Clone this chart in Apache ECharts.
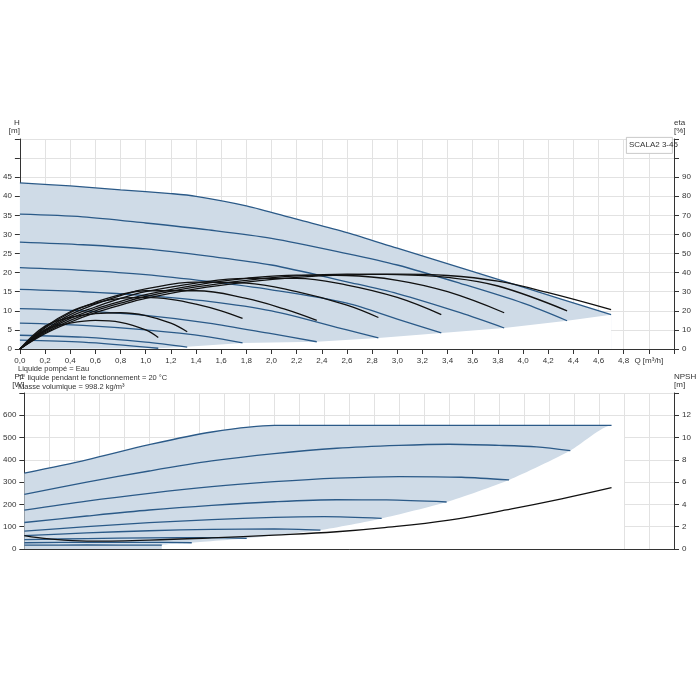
<!DOCTYPE html>
<html><head><meta charset="utf-8">
<script src="https://cdn.jsdelivr.net/npm/echarts@6/dist/echarts.min.js"></script>
<style>html,body{margin:0;padding:0;background:#fff}#c{width:700px;height:700px}</style>
</head><body><div id="c"></div>
<script>
// Head curves H [m] vs Q [m3/h]
var speeds = ['100 %', '90 %', '80 %', '70 %', '60 %', '50 %', '40 %', '30 %', '25 %'];
var h100 = [[0,43.5],[0.4,42.7],[0.8,41.7],[1.2,40.7],[1.4,40],[1.8,37.5],[2.2,34],[2.6,30.5],[3.0,26.4],[3.5,21.3],[4.0,16.2],[4.7,9]];
var h90 = [[0,35.3],[0.5,34.6],[1.0,33],[1.5,31.2],[2.0,29],[2.6,25],[3.0,22],[3.5,17.2],[4.0,12],[4.35,7.4]];
var h80 = [[0,28],[0.5,27.3],[1.0,26.2],[1.5,24.3],[2.0,22],[2.6,17.6],[3.0,14.5],[3.5,9.5],[3.85,5.5]];
var h70 = [[0,21.3],[0.5,20.6],[1.0,19.5],[1.5,17.7],[2.0,15.5],[2.6,12],[3.0,7.8],[3.35,4.2]];
var h60 = [[0,15.6],[0.5,15],[1.0,14],[1.5,12.5],[2.0,10],[2.6,5],[2.85,2.9]];
var h50 = [[0,10.6],[0.5,10],[1.0,8.8],[1.5,6.8],[2.0,4],[2.36,1.9]];
var h40 = [[0,6.8],[0.5,6.2],[1.0,5],[1.5,3.2],[1.77,1.6]];
var h30 = [[0,3.6],[0.5,3.1],[1.0,1.8],[1.33,0.5]];
var h25 = [[0,2.3],[0.5,1.8],[1.1,0.2]];
var hBottom = [[1.1,0.2],[1.33,0.6],[1.77,1.6],[2.36,1.9],[2.85,2.9],[3.35,4.2],[3.85,5.5],[4.35,7.4],[4.7,9]];

// Efficiency curves eta [%]
var e100 = [[0,0],[0.2,8],[0.4,14],[0.6,19],[0.8,23],[1.0,26.5],[1.4,31.5],[1.8,35],[2.2,37.5],[2.6,38.8],[3.0,39.2],[3.4,38.5],[3.8,35.5],[4.2,29.5],[4.7,20.6]];
var e90 = [[0,0],[0.2,8.5],[0.4,15],[0.6,20],[0.8,24],[1.0,27.5],[1.4,32.5],[1.8,36],[2.2,38.3],[2.6,39.2],[3.0,39],[3.4,37.5],[3.8,33],[4.35,20]];
var e80 = [[0,0],[0.2,9],[0.4,16],[0.6,21],[0.8,25],[1.0,28.5],[1.4,33.5],[1.8,37],[2.2,38.7],[2.6,38.5],[3.0,36],[3.4,30],[3.85,19]];
var e70 = [[0,0],[0.2,9.5],[0.4,17],[0.6,22],[0.8,26.5],[1.0,30],[1.4,34.5],[1.8,37],[2.2,37],[2.6,33.5],[3.0,27],[3.35,18]];
var e60 = [[0,0],[0.2,10],[0.4,18],[0.6,23.5],[0.8,28],[1.0,31.5],[1.4,35],[1.8,34.5],[2.2,30],[2.6,23],[2.85,16.5]];
var e50 = [[0,0],[0.2,11],[0.4,19],[0.6,24.5],[0.8,28.5],[1.0,30.5],[1.4,30.5],[1.8,26.5],[2.1,21],[2.36,15]];
var e40 = [[0,0],[0.2,11.5],[0.4,19.5],[0.6,24],[0.8,26.5],[1.0,27],[1.2,26],[1.4,23.5],[1.6,20],[1.77,16]];
var e30 = [[0,0],[0.2,12],[0.4,16.5],[0.6,18.5],[0.8,19],[1.0,17.5],[1.2,13.5],[1.33,9]];
var e25 = [[0,0],[0.2,10],[0.4,13.5],[0.6,15],[0.8,14],[1.0,10],[1.1,6]];

// Power P1 [W]
var p100 = [[0,340],[0.5,400],[1.0,468],[1.5,525],[2.0,555],[3.0,555],[4.7,555]];
var p90 = [[0,245],[0.5,300],[1.0,350],[1.5,395],[2.0,428],[2.5,452],[3.0,465],[3.4,470],[3.8,465],[4.1,458],[4.37,441]];
var p80 = [[0,174],[0.5,215],[1.0,250],[1.5,280],[2.0,302],[2.5,318],[3.0,325],[3.5,322],[3.88,310]];
var p70 = [[0,119],[0.5,148],[1.0,175],[1.5,196],[2.0,212],[2.5,221],[2.9,220],[3.38,211]];
var p60 = [[0,80],[0.5,100],[1.0,118],[1.5,132],[2.0,142],[2.4,145],[2.86,137]];
var p50 = [[0,60],[0.5,72],[1.0,82],[1.5,88],[2.0,90],[2.37,85]];
var p40 = [[0,42],[0.5,47],[1.0,50],[1.5,51],[1.78,48]];
var p30 = [[0,28],[0.5,30],[1.0,30],[1.34,28]];
var p25 = [[0,17],[0.5,18],[1.1,17]];
var pBottom = [[1.1,17],[1.34,28],[1.78,48],[2.37,85],[2.86,137],[3.38,211],[3.88,310],[4.37,441],[4.7,555]];

// NPSH [m]
var npsh = [[0,1.2],[0.2,0.9],[0.5,0.7],[1.0,0.8],[1.5,1.0],[2.0,1.25],[2.5,1.55],[2.86,1.9],[3.4,2.6],[3.9,3.6],[4.3,4.5],[4.7,5.5]];

var hCurves = [h100, h90, h80, h70, h60, h50, h40, h30, h25];
var eCurves = [e100, e90, e80, e70, e60, e50, e40, e30, e25];
var pCurves = [p100, p90, p80, p70, p60, p50, p40, p30, p25];

var BLUE = '#2b5a88', FILL = '#cfdbe7', GRID = '#e2e2e2';
var font = 'Liberation Sans, Arial, sans-serif';

function xAxis(gi, labels) {
  return {
    type: 'value', gridIndex: gi, min: 0, max: 5.2, interval: 0.2,
    axisLine: {show: true, onZero: false, lineStyle: {color: '#333'}},
    axisTick: {show: labels, lineStyle: {color: '#333'}},
    axisLabel: {show: labels, fontSize: 8, color: '#333', fontFamily: font,
      formatter: function (v) {
        if (Math.abs(v - 5.0) < 0.01) return 'Q [m³/h]';
        if (v > 5.0) return '';
        return v.toFixed(1).replace('.', ',');
      }},
    splitLine: {lineStyle: {color: GRID}}
  };
}
function yAxis(gi, pos, max, interval, lastLabel, name) {
  return {
    type: 'value', gridIndex: gi, position: pos, min: 0, max: max, interval: interval,
    name: name, nameLocation: 'end', nameGap: 4,
    nameTextStyle: {fontSize: 8, color: '#333', fontFamily: font, align: pos === 'left' ? 'right' : 'left', padding: pos === 'left' ? [0, 0, 0, 0] : [0, 0, 0, 0]},
    axisLine: {show: true, lineStyle: {color: '#333'}},
    axisTick: {show: true, lineStyle: {color: '#333'}},
    axisLabel: {fontSize: 8, color: '#333', fontFamily: font,
      formatter: function (v) { return v > lastLabel ? '' : String(v); }},
    splitLine: {show: pos === 'left', lineStyle: {color: GRID}}
  };
}

var series = [];
// head envelope fill
series.push({type: 'line', xAxisIndex: 0, yAxisIndex: 0, data: h100, symbol: 'none', smooth: 0.3,
  lineStyle: {width: 0}, areaStyle: {color: FILL, opacity: 1}, z: 1, silent: true});
series.push({type: 'line', xAxisIndex: 0, yAxisIndex: 0, data: [[0, 0]].concat(hBottom), symbol: 'none',
  lineStyle: {width: 0}, areaStyle: {color: '#fff', opacity: 1}, z: 1, silent: true});
hCurves.forEach(function (c, i) {
  var d = c.map(function (p, j) {
    return j === 0 ? {value: p, label: {show: true, formatter: speeds[i], position: 'top',
      offset: [i < 7 ? 28 - i * 2 : 8, i < 7 ? -1 : (i === 7 ? 2 : 6)], fontSize: 7, color: '#222', fontFamily: font}} : p;
  });
  series.push({type: 'line', xAxisIndex: 0, yAxisIndex: 0, data: d, symbol: 'none', smooth: 0.3,
    lineStyle: {color: BLUE, width: 1.3}, z: 3, silent: true});
});
eCurves.forEach(function (c) {
  series.push({type: 'line', xAxisIndex: 0, yAxisIndex: 1, data: c, symbol: 'none', smooth: 0.4,
    lineStyle: {color: '#111', width: 1.3}, z: 4, silent: true});
});
// power envelope fill
series.push({type: 'line', xAxisIndex: 1, yAxisIndex: 2, data: p100, symbol: 'none', smooth: 0.3,
  lineStyle: {width: 0}, areaStyle: {color: FILL, opacity: 1}, z: 1, silent: true});
series.push({type: 'line', xAxisIndex: 1, yAxisIndex: 2, data: [[0, 0], [1.1, 0]].concat(pBottom).concat([[4.8, 555], [4.8, 0]]), symbol: 'none',
  smooth: 0.2, lineStyle: {width: 0}, areaStyle: {color: '#fff', opacity: 1}, z: 1, silent: true});
pCurves.forEach(function (c) {
  series.push({type: 'line', xAxisIndex: 1, yAxisIndex: 2, data: c, symbol: 'none', smooth: 0.3,
    lineStyle: {color: BLUE, width: 1.3}, z: 3, silent: true});
});
series.push({type: 'line', xAxisIndex: 1, yAxisIndex: 3, data: npsh, symbol: 'none', smooth: 0.4,
  lineStyle: {color: '#111', width: 1.3}, z: 4, silent: true});

var chart = echarts.init(document.getElementById('c'));
chart.setOption({
  animation: false,
  backgroundColor: '#fff',
  grid: [
    {left: 17, right: 26, top: 139, height: 210},
    {left: 17, right: 26, top: 393, height: 156}
  ],
  xAxis: [xAxis(0, true), xAxis(1, false)],
  yAxis: [
    yAxis(0, 'left', 55, 5, 45, 'H\n[m]'),
    yAxis(0, 'right', 110, 10, 90, 'eta\n[%]'),
    yAxis(1, 'left', 700, 100, 600, 'P1\n[W]'),
    yAxis(1, 'right', 14, 2, 12, 'NPSH\n[m]')
  ],
  graphic: [
    {type: 'rect', left: 626, top: 137, shape: {width: 46, height: 16}, style: {fill: '#fff', stroke: '#bbb', lineWidth: 0.8}, z: 10},
    {type: 'text', left: 629, top: 141, style: {text: 'SCALA2 3-45', fontSize: 8, fill: '#333', fontFamily: font}, z: 11},
    {type: 'text', left: 18, top: 364, style: {text: 'Liquide pompé = Eau\nT° liquide pendant le fonctionnement = 20 °C\nMasse volumique = 998.2 kg/m³',
      fontSize: 7.5, lineHeight: 9, fill: '#333', fontFamily: font}}
  ],
  series: series
});
</script></body></html>
